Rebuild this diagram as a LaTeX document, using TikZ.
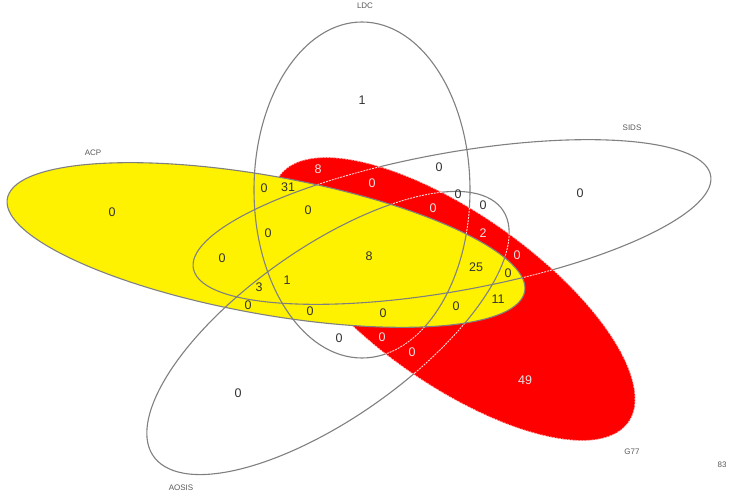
\documentclass[tikz,border=0pt]{standalone}
\usepackage{fontspec}
\setmainfont{Liberation Sans}
\begin{document}
\begin{tikzpicture}[x=1pt,y=-1pt,
  ldc/.style={shift={(362,190)},xscale=1.607},
  sids/.style={shift={(452,222)},xscale=1.607,rotate=-72},
  acp/.style={shift={(266,245)},xscale=1.607,rotate=72},
  aosis/.style={shift={(328,333)},xscale=1.607,rotate=-36},
  gsev/.style={shift={(454,299)},xscale=1.607,rotate=36},
  outl/.style={draw=black!50,line width=1.1pt},
  wline/.style={draw=white!85!red,line width=0.9pt,dash pattern=on 2pt off 1pt},
  num/.style={font=\fontsize{12.5}{14}\selectfont,text=black!80,inner sep=0pt},
  rnum/.style={num,text=white!80!gray},
  lab/.style={font=\fontsize{8}{9}\selectfont,text=black!65,inner sep=0pt}]
\useasboundingbox (0,0) rectangle (739,494);
\fill[white] (0,0) rectangle (739,494);
% outlines (outside the coloured sets)
\path[outl,ldc] (0,0) ellipse (67.2 and 168);
\path[outl,sids] (0,0) ellipse (67.2 and 168);
\path[outl,aosis] (0,0) ellipse (67.2 and 168);
% G77 fill
\fill[red,gsev] (0,0) ellipse (67.2 and 168);
\begin{scope}
  \clip[gsev] (0,0) ellipse (67.2 and 168);
  \path[wline,ldc] (0,0) ellipse (67.2 and 168);
  \path[wline,sids] (0,0) ellipse (67.2 and 168);
  \path[wline,aosis] (0,0) ellipse (67.2 and 168);
  \path[wline,gsev] (0,0) ellipse (67.2 and 168);
\end{scope}
% ACP fill
\fill[yellow,acp] (0,0) ellipse (67.2 and 168);
\begin{scope}
  \clip[acp] (0,0) ellipse (67.2 and 168);
  \path[outl,ldc] (0,0) ellipse (67.2 and 168);
  \path[outl,sids] (0,0) ellipse (67.2 and 168);
  \path[outl,aosis] (0,0) ellipse (67.2 and 168);
\end{scope}
\path[outl,acp] (0,0) ellipse (67.2 and 168);
% labels
\node[lab] (lLDC) at (365,6) {LDC};
\node[lab] (lSIDS) at (632,128) {SIDS};
\node[lab] (lACP) at (93,153) {ACP};
\node[lab] (lAOSIS) at (181,488) {AOSIS};
\node[lab] (lG) at (632,452) {G77};
\node[lab] (lTot) at (722,465) {83};
% counts
\node[num] (n1) at (362,100) {1};
\node[num] (n2) at (580,193) {0};
\node[num] (n3) at (112,212) {0};
\node[num] (n4) at (238,393) {0};
\node[rnum] (n5) at (525,380) {49};
\node[rnum] (n6) at (318,169) {8};
\node[num] (n7) at (264,188) {0};
\node[num] (n8) at (288,187) {31};
\node[rnum] (n9) at (372,183) {0};
\node[num] (n10) at (439,167) {0};
\node[num] (n11) at (458,194) {0};
\node[num] (n12) at (483,205) {0};
\node[num] (n13) at (308,210) {0};
\node[rnum] (n14) at (433,208) {0};
\node[num] (n15) at (268,233) {0};
\node[rnum] (n16) at (483,233) {2};
\node[rnum] (n17) at (517,255) {0};
\node[num] (n18) at (222,258) {0};
\node[num] (n19) at (369,256) {8};
\node[num] (n20) at (476,267) {25};
\node[num] (n21) at (508,273) {0};
\node[num] (n22) at (259,287) {3};
\node[num] (n23) at (287,280) {1};
\node[num] (n24) at (498,299) {11};
\node[num] (n25) at (248,305) {0};
\node[num] (n26) at (310,311) {0};
\node[num] (n27) at (383,313) {0};
\node[num] (n28) at (456,306) {0};
\node[num] (n29) at (339,338) {0};
\node[rnum] (n30) at (382,337) {0};
\node[rnum] (n31) at (412,352) {0};
\end{tikzpicture}
\end{document}
